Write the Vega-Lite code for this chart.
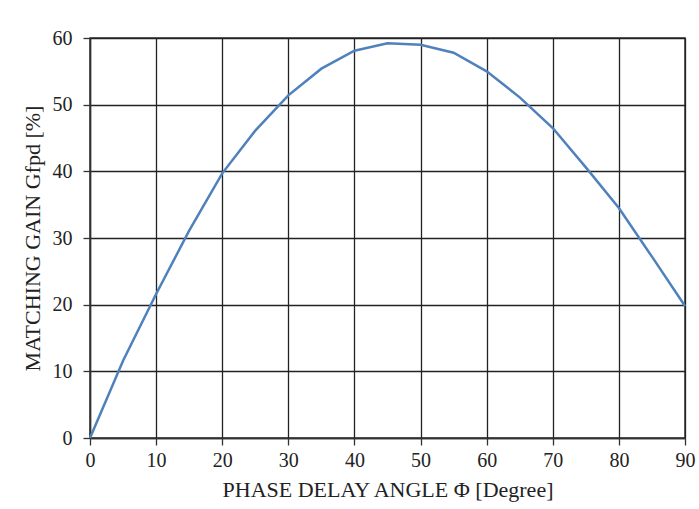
{
  "$schema": "https://vega.github.io/schema/vega-lite/v6.json",
  "autosize": "none",
  "width": 595,
  "height": 400,
  "padding": {"left": 90, "top": 38, "right": 14, "bottom": 71},
  "background": "white",
  "config": {
    "font": "Liberation Serif",
    "view": {"stroke": "#333333", "strokeWidth": 1.5},
    "axis": {
      "titleFontWeight": "normal",
      "labelColor": "#222222",
      "titleColor": "#222222",
      "gridColor": "#222222",
      "gridWidth": 1.3,
      "gridOpacity": 1,
      "domainColor": "#333333",
      "domainWidth": 1.5,
      "tickColor": "#333333",
      "tickWidth": 1.3,
      "tickSize": 7
    }
  },
  "data": {
    "values": [
      {"angle": 0, "gain": 0},
      {"angle": 5, "gain": 11.6},
      {"angle": 10, "gain": 21.6},
      {"angle": 15, "gain": 31.1},
      {"angle": 20, "gain": 39.7},
      {"angle": 25, "gain": 46.1},
      {"angle": 30, "gain": 51.4},
      {"angle": 35, "gain": 55.4},
      {"angle": 40, "gain": 58.1},
      {"angle": 45, "gain": 59.2},
      {"angle": 50, "gain": 59.0},
      {"angle": 55, "gain": 57.8},
      {"angle": 60, "gain": 55.0},
      {"angle": 65, "gain": 51.1},
      {"angle": 70, "gain": 46.5},
      {"angle": 75, "gain": 40.6},
      {"angle": 80, "gain": 34.5},
      {"angle": 85, "gain": 27.2},
      {"angle": 90, "gain": 19.8}
    ]
  },
  "mark": {"type": "line", "color": "#4F81BD", "strokeWidth": 2.5},
  "encoding": {
    "x": {
      "field": "angle",
      "type": "quantitative",
      "scale": {"domain": [0, 90], "nice": false, "zero": false},
      "axis": {
        "title": "PHASE DELAY  ANGLE Φ [Degree]",
        "values": [0, 10, 20, 30, 40, 50, 60, 70, 80, 90],
        "labelFont": "Liberation Serif",
        "titleFont": "Liberation Serif",
        "labelFontSize": 20,
        "titleFontSize": 22,
        "labelPadding": 5,
        "titlePadding": 9,
        "labelFlush": false
      }
    },
    "y": {
      "field": "gain",
      "type": "quantitative",
      "scale": {"domain": [0, 60], "nice": false},
      "axis": {
        "title": "MATCHING  GAIN Gfpd [%]",
        "values": [0, 10, 20, 30, 40, 50, 60],
        "labelFont": "Liberation Serif",
        "titleFont": "Liberation Serif",
        "labelFontSize": 20,
        "titleFontSize": 22,
        "labelPadding": 11,
        "titlePadding": 8
      }
    }
  }
}
